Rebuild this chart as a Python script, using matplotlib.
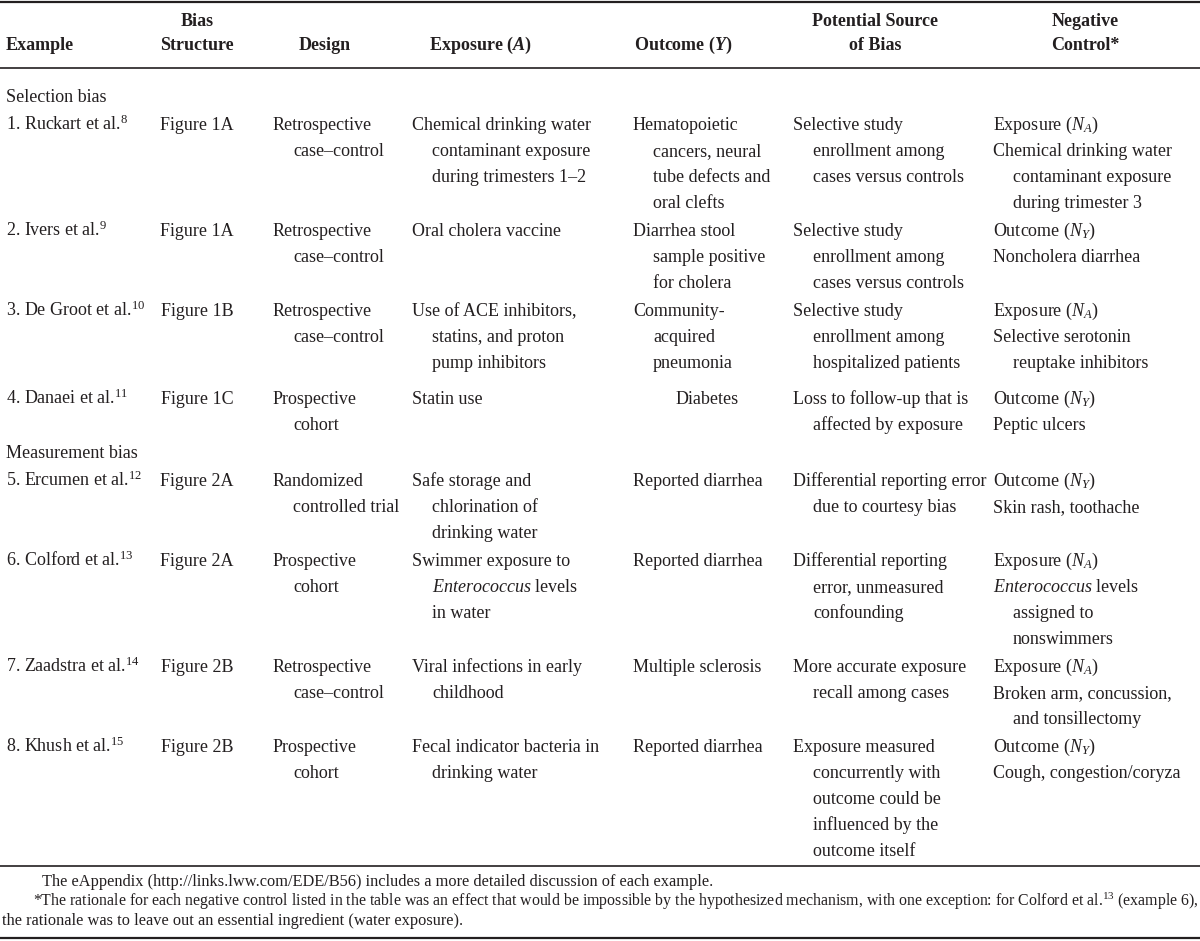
import matplotlib
matplotlib.use('Agg')
from matplotlib import pyplot as plt

plt.rcParams['font.family'] = ['Liberation Serif', 'DejaVu Serif']
plt.rcParams['mathtext.fontset'] = 'custom'
plt.rcParams['mathtext.rm'] = 'Liberation Serif'
plt.rcParams['mathtext.it'] = 'Liberation Serif:italic'
plt.rcParams['mathtext.bf'] = 'Liberation Serif:bold:italic'  # used for A / Y in the header

# ---- table content -------------------------------------------------------
header_top = ['', 'Bias', '', '', '', 'Potential Source', 'Negative']
header_bottom = ['Example', 'Structure', 'Design', r'Exposure ($\mathbf{A}$)',
                 r'Outcome ($\mathbf{Y}$)', 'of Bias', 'Control*']

sections = {0: 'Selection bias', 4: 'Measurement bias'}

examples = [r'1. Ruckart et al.$^{8}$', r'2. Ivers et al.$^{9}$',
            r'3. De Groot et al.$^{10}$', r'4. Danaei et al.$^{11}$',
            r'5. Ercumen et al.$^{12}$', r'6. Colford et al.$^{13}$',
            r'7. Zaadstra et al.$^{14}$', r'8. Khush et al.$^{15}$']

structures = ['Figure 1A', 'Figure 1A', 'Figure 1B', 'Figure 1C',
              'Figure 2A', 'Figure 2A', 'Figure 2B', 'Figure 2B']

designs = [['Retrospective', 'case\u2013control'],
           ['Retrospective', 'case\u2013control'],
           ['Retrospective', 'case\u2013control'],
           ['Prospective', 'cohort'],
           ['Randomized', 'controlled trial'],
           ['Prospective', 'cohort'],
           ['Retrospective', 'case\u2013control'],
           ['Prospective', 'cohort']]

exposures = [['Chemical drinking water', 'contaminant exposure', 'during trimesters 1\u20132'],
             ['Oral cholera vaccine'],
             ['Use of ACE inhibitors,', 'statins, and proton', 'pump inhibitors'],
             ['Statin use'],
             ['Safe storage and', 'chlorination of', 'drinking water'],
             ['Swimmer exposure to', r'$\mathit{Enterococcus}$ levels', 'in water'],
             ['Viral infections in early', 'childhood'],
             ['Fecal indicator bacteria in', 'drinking water']]

outcomes = [['Hematopoietic', 'cancers, neural', 'tube defects and', 'oral clefts'],
            ['Diarrhea stool', 'sample positive', 'for cholera'],
            ['Community-', 'acquired', 'pneumonia'],
            ['Diabetes'],
            ['Reported diarrhea'],
            ['Reported diarrhea'],
            ['Multiple sclerosis'],
            ['Reported diarrhea']]

sources = [['Selective study', 'enrollment among', 'cases versus controls'],
           ['Selective study', 'enrollment among', 'cases versus controls'],
           ['Selective study', 'enrollment among', 'hospitalized patients'],
           ['Loss to follow-up that is', 'affected by exposure'],
           ['Differential reporting error', 'due to courtesy bias'],
           ['Differential reporting', 'error, unmeasured', 'confounding'],
           ['More accurate exposure', 'recall among cases'],
           ['Exposure measured', 'concurrently with', 'outcome could be',
            'influenced by the', 'outcome itself']]

control_types = [r'Exposure ($N_A$)', r'Outcome ($N_Y$)', r'Exposure ($N_A$)',
                 r'Outcome ($N_Y$)', r'Outcome ($N_Y$)', r'Exposure ($N_A$)',
                 r'Exposure ($N_A$)', r'Outcome ($N_Y$)']

control_desc = [['Chemical drinking water', 'contaminant exposure', 'during trimester 3'],
                ['Noncholera diarrhea'],
                ['Selective serotonin', 'reuptake inhibitors'],
                ['Peptic ulcers'],
                ['Skin rash, toothache'],
                [r'$\mathit{Enterococcus}$ levels', 'assigned to', 'nonswimmers'],
                ['Broken arm, concussion,', 'and tonsillectomy'],
                ['Cough, congestion/coryza']]

footnotes = ['The eAppendix (http://links.lww.com/EDE/B56) includes a more detailed discussion of each example.',
             r'*The rationale for each negative control listed in the table was an effect that would be impossible '
             r'by the hypothesized mechanism, with one exception: for Colford et al.$^{13}$ (example 6),',
             'the rationale was to leave out an essential ingredient (water exposure).']

# ---- layout --------------------------------------------------------------
W, H = 1200, 941
ink = '#231f20'
fs = 13
lh = 26
indent = 20

fig = plt.figure(figsize=(12, 9.41), dpi=100)
ax = fig.add_axes([0, 0, 1, 1])
ax.set_xlim(0, W)
ax.set_ylim(H, 0)
ax.axis('off')


def put(x, y, s, size=fs, **kw):
    return ax.text(x, y + 5, s, fontsize=size, color=ink, va='baseline', **kw)


# rules
for y, lw in [(2, 1.6), (68, 1.2), (866, 1.2), (938, 1.6)]:
    ax.plot([0, W], [y, y], color=ink, lw=lw, solid_capstyle='butt')

# header
col_left = [6, 197, 273, 412, 633, 793, 993]
head_center = [None, 197, 325, 480, 683, 875, 1085]
for i in range(7):
    for y, s in [(21, header_top[i]), (45, header_bottom[i])]:
        if not s:
            continue
        if i == 0:
            put(col_left[0], y, s, fontweight='bold')
        else:
            put(head_center[i], y, s, fontweight='bold', ha='center')


def cell(x, y, lines):
    for k, s in enumerate(lines):
        put(x + (indent if k else 0), y + k * lh, s)


y = 97
for r in range(len(examples)):
    if r in sections:
        put(col_left[0], y, sections[r])
        y += lh + 2
    if r == 3:
        y += 8  # extra space before the Danaei row, as in the source
    put(col_left[0], y, examples[r])
    put(197, y, structures[r], ha='center')
    cell(col_left[2], y, designs[r])
    cell(col_left[3], y, exposures[r])
    if r == 3:
        put(707, y, outcomes[r][0], ha='center')
    else:
        cell(col_left[4], y, outcomes[r])
    cell(col_left[5], y, sources[r])
    put(col_left[6], y, control_types[r])
    cell(col_left[6], y + lh, control_desc[r])
    n = max(len(designs[r]), len(exposures[r]), len(outcomes[r]),
            len(sources[r]), 1 + len(control_desc[r]))
    y += n * lh + 2

# footnotes
fsn = 11.8
renderer = fig.canvas.get_renderer()
put(42, 881, footnotes[0], size=fsn)
t = put(33, 901, footnotes[1], size=fsn)
w = t.get_window_extent(renderer).width
t.set_fontsize(fsn * (1197 - 33) / w)
put(2, 920, footnotes[2], size=fsn)

fig.savefig('out.png', dpi=100)
